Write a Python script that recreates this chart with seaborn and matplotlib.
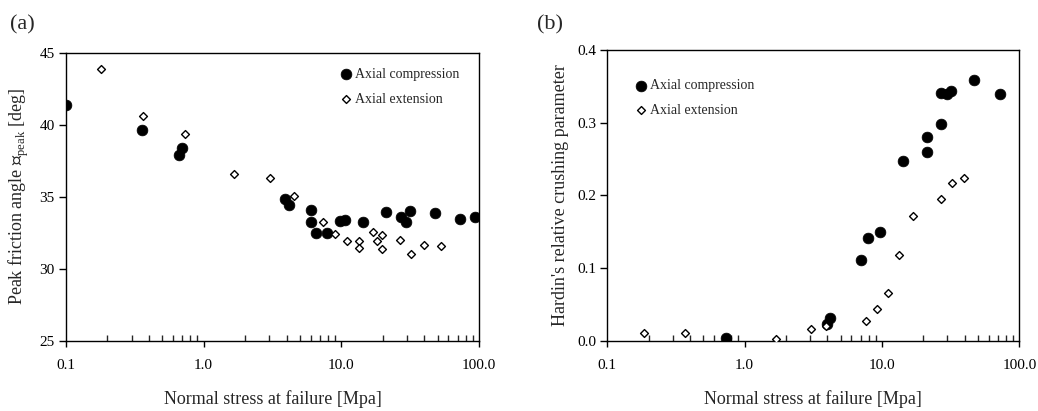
import numpy as np
import pandas as pd
import matplotlib
matplotlib.use("Agg")
import matplotlib.pyplot as plt
import matplotlib.ticker as mticker
import seaborn as sns

# ---- data: panel (a) ----
a_comp_x = [0.1, 0.356, 0.661, 0.691, 3.89, 4.18, 6.07, 6.07, 6.6, 7.89, 9.86, 10.6,
            14.4, 21.0, 27.3, 29.4, 31.4, 47.7, 72.4, 94.1]
a_comp_y = [41.35, 39.64, 37.88, 38.41, 34.85, 34.41, 34.06, 33.28, 32.51, 32.51, 33.35, 33.42,
            33.28, 33.92, 33.62, 33.28, 34.02, 33.86, 33.44, 33.60]
a_ext_x = [0.181, 0.364, 0.735, 1.67, 3.04, 4.52, 7.42, 9.07, 10.96, 13.5, 13.5, 16.9,
           18.3, 19.9, 19.6, 26.7, 32.1, 39.9, 53.0]
a_ext_y = [43.84, 40.63, 39.38, 36.58, 36.33, 35.08, 33.28, 32.42, 31.96, 31.96, 31.43, 32.54,
           31.96, 32.35, 31.36, 32.03, 31.03, 31.68, 31.61]

# ---- data: panel (b) ----
b_comp_x = [0.731, 4.0, 4.18, 6.99, 7.86, 9.62, 14.2, 21.1, 21.1, 26.9, 26.9, 29.9, 32.0, 47.0, 72.3]
b_comp_y = [0.004, 0.024, 0.031, 0.112, 0.142, 0.150, 0.247, 0.260, 0.280, 0.298, 0.341,
            0.339, 0.343, 0.359, 0.339]
b_ext_x = [0.184, 0.370, 1.70, 3.04, 3.93, 7.69, 9.2, 11.0, 13.4, 16.8, 26.7, 32.5, 39.8]
b_ext_y = [0.011, 0.011, 0.0023, 0.016, 0.020, 0.0275, 0.044, 0.0655, 0.118, 0.172, 0.195,
           0.217, 0.224]

x_ticks = [0.1, 1.0, 10.0, 100.0]
x_tick_labels = ["0.1", "1.0", "10.0", "100.0"]
a_y_ticks = [25, 30, 35, 40, 45]
b_y_ticks = [0.0, 0.1, 0.2, 0.3, 0.4]
b_y_tick_labels = ["0.0", "0.1", "0.2", "0.3", "0.4"]

sns.set_style("ticks")
plt.rcParams["font.family"] = ["Liberation Serif", "DejaVu Serif"]
plt.rcParams["mathtext.fontset"] = "custom"
plt.rcParams["mathtext.rm"] = "Liberation Serif"
plt.rcParams["axes.edgecolor"] = "black"
plt.rcParams["axes.linewidth"] = 1.0

fig = plt.figure(figsize=(10.38, 4.11), dpi=100)
ax1 = fig.add_axes([66 / 1038, 1 - 341 / 411, (479 - 66) / 1038, (341 - 52.7) / 411])
ax2 = fig.add_axes([607.3 / 1038, 1 - 341 / 411, (1019.3 - 607.3) / 1038, (341 - 50) / 411])

comp_kw = dict(marker="o", color="black", edgecolor="black", linewidth=0.5, s=60, zorder=3)
ext_kw = dict(marker="D", color="white", edgecolor="black", linewidth=1.0, s=16, zorder=4)

sns.scatterplot(x=a_comp_x, y=a_comp_y, ax=ax1, label="Axial compression", **comp_kw)
sns.scatterplot(x=a_ext_x, y=a_ext_y, ax=ax1, label="Axial extension", **ext_kw)
sns.scatterplot(x=b_comp_x, y=b_comp_y, ax=ax2, label="Axial compression", **comp_kw)
sns.scatterplot(x=b_ext_x, y=b_ext_y, ax=ax2, label="Axial extension", **ext_kw)

for ax in (ax1, ax2):
    ax.set_xscale("log")
    ax.set_xlim(0.1, 100)
    ax.set_xticks(x_ticks)
    ax.set_xticklabels(x_tick_labels)
    ax.xaxis.set_minor_locator(mticker.LogLocator(base=10, subs=np.arange(2, 10)))
    ax.xaxis.set_minor_formatter(mticker.NullFormatter())
    ax.tick_params(axis="x", which="major", direction="out", length=4, width=1,
                   labelsize=11, pad=9, colors="black")
    ax.tick_params(axis="x", which="minor", direction="in", length=4, width=1)
    ax.tick_params(axis="y", which="major", direction="out", length=5, width=1,
                   labelsize=11, pad=3, colors="black")
    for s in ax.spines.values():
        s.set_visible(True)
        s.set_color("black")
        s.set_linewidth(1.0)
    ax.set_xlabel("Normal stress at failure [Mpa]", fontsize=13, labelpad=13)
    ax.set_facecolor("white")

ax1.set_ylim(25, 45)
ax1.set_yticks(a_y_ticks)
ax1.set_ylabel("Peak friction angle \u2245$_{\\rm peak}$ [deg]", fontsize=13, labelpad=6)

ax2.set_ylim(0, 0.4)
ax2.set_yticks(b_y_ticks)
ax2.set_yticklabels(b_y_tick_labels)
ax2.set_ylabel("Hardin's relative crushing parameter", fontsize=13, labelpad=6)

leg_kw = dict(frameon=False, fontsize=10, handletextpad=0.15, handlelength=1.0,
              labelspacing=0.83, borderaxespad=0, borderpad=0, markerscale=1.0)
ax1.legend(loc="upper left", bbox_to_anchor=((339 - 66) / 413, 1 - (68 - 52.7) / 288.3), **leg_kw)
ax2.legend(loc="upper left", bbox_to_anchor=((634 - 607.3) / 412, 1 - (79.5 - 50) / 291), **leg_kw)

fig.text(10 / 1038, 1 - 25 / 411, "(a)", fontsize=16, va="center", ha="left")
fig.text(537 / 1038, 1 - 25 / 411, "(b)", fontsize=16, va="center", ha="left")

fig.savefig("out.png", dpi=100, facecolor="white")
